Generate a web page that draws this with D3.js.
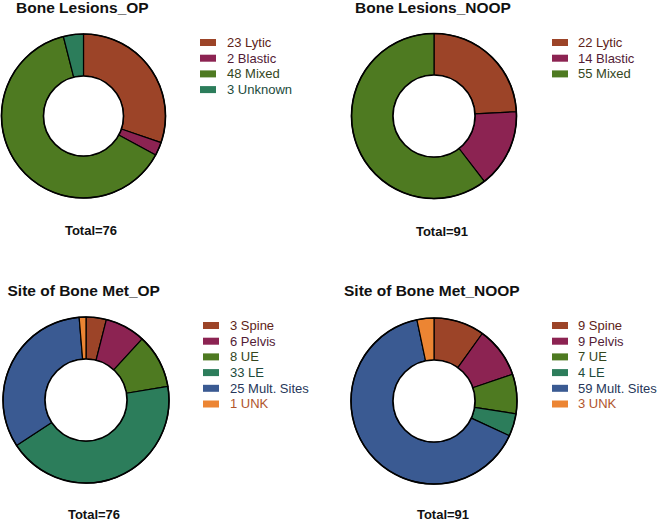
<!DOCTYPE html>
<html><head><meta charset="utf-8">
<script src="https://cdn.jsdelivr.net/npm/d3@7"></script>
<style>body{margin:0;background:#fff}svg{display:block}text{font-family:"Liberation Sans",Arial,sans-serif}</style>
</head><body><svg id="c" width="661" height="521"></svg>
<script>
const lesionCats = ["Lytic","Blastic","Mixed","Unknown"];
const lesionOP = [23,2,48,3];
const lesionNOOP = [22,14,55];
const siteCats = ["Spine","Pelvis","UE","LE","Mult. Sites","UNK"];
const siteOP = [3,6,8,33,25,1];
const siteNOOP = [9,9,7,4,59,3];
const titles = ["Bone Lesions_OP","Bone Lesions_NOOP","Site of Bone Met_OP","Site of Bone Met_NOOP"];

const fillLesion = ["#9c4428","#8c2352","#4e7a21","#2c7d5b"];
const textLesion = ["#5e2418","#521b36","#34461c","#214a3b"];
const fillSite = ["#9c4428","#8c2352","#4e7a21","#2c7d5b","#3a5a92","#ec8533"];
const textSite = ["#5e2418","#521b36","#34461c","#214a3b","#27375a","#b0542c"];

const svg = d3.select("#c");
const panels = [
  {cats:lesionCats, vals:lesionOP, fill:fillLesion, tcol:textLesion, title:titles[0], cx:83.5, cy:116, R:82, r:40, tx:16, ty:13, totx:91, toty:235, lx:200, ly:39, txx:227},
  {cats:lesionCats.slice(0,3), vals:lesionNOOP, fill:fillLesion, tcol:textLesion, title:titles[1], cx:434, cy:116, R:82.5, r:41, tx:355, ty:13, totx:442, toty:236, lx:552, ly:39, txx:578},
  {cats:siteCats, vals:siteOP, fill:fillSite, tcol:textSite, title:titles[2], cx:86, cy:400, R:83, r:41, tx:7.5, ty:296, totx:94, toty:519, lx:203, ly:322, txx:230},
  {cats:siteCats, vals:siteNOOP, fill:fillSite, tcol:textSite, title:titles[3], cx:434, cy:401, R:83, r:41, tx:344, ty:296, totx:443, toty:519, lx:552, ly:322, txx:578}
];

panels.forEach(p => {
  const pie = d3.pie().sort(null).value(d => d.v);
  const data = p.vals.map((v,i) => ({v, c:p.cats[i], i}));
  const arc = d3.arc().innerRadius(p.r).outerRadius(p.R);
  const g = svg.append("g").attr("transform", `translate(${p.cx},${p.cy})`);
  g.selectAll("path").data(pie(data)).join("path")
    .attr("d", arc).attr("fill", d => p.fill[d.data.i])
    .attr("stroke", "#000").attr("stroke-width", 1.2).attr("stroke-linejoin","round");
  g.append("circle").attr("r", p.R).attr("fill","none").attr("stroke","#000").attr("stroke-width",1.6);
  g.append("circle").attr("r", p.r).attr("fill","#fff").attr("stroke","#000").attr("stroke-width",1.6);

  svg.append("text").attr("x", p.tx).attr("y", p.ty).attr("font-size", 15.5).attr("font-weight","bold").attr("fill","#111").text(p.title);
  const total = d3.sum(p.vals);
  svg.append("text").attr("x", p.totx).attr("y", p.toty).attr("text-anchor","middle").attr("font-size", 13).attr("font-weight","bold").attr("fill","#111").text("Total=" + total);

  const y = d3.scaleLinear().domain([0,1]).range([p.ly, p.ly + 15.7]);
  const lg = svg.append("g");
  data.forEach((d,i) => {
    lg.append("rect").attr("x", p.lx).attr("y", y(i)).attr("width", 16).attr("height", 7).attr("fill", p.fill[i]);
    lg.append("text").attr("x", p.txx).attr("y", y(i) + 7.8).attr("font-size", 13).attr("fill", p.tcol[i]).text(d.v + " " + d.c);
  });
});
</script></body></html>
